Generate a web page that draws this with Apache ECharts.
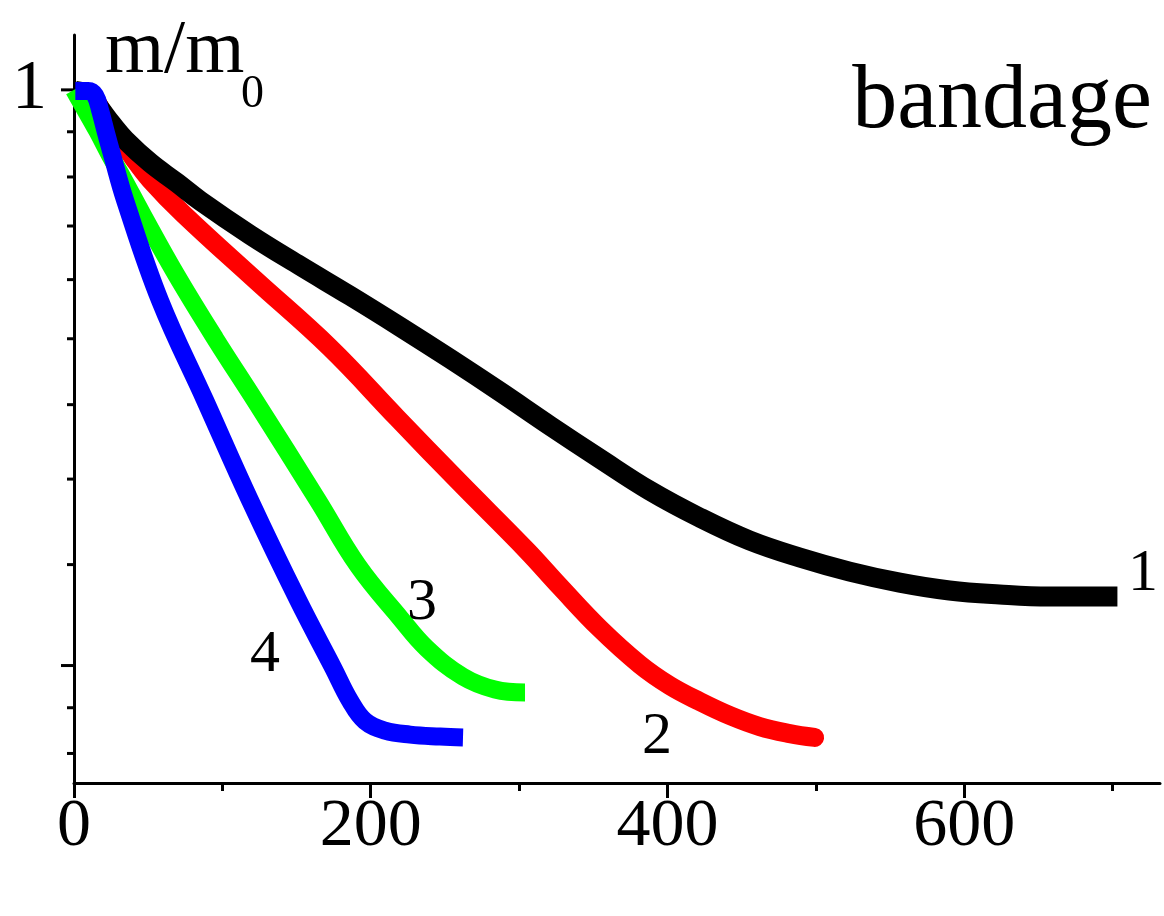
<!DOCTYPE html>
<html>
<head>
<meta charset="utf-8">
<script src="https://cdn.jsdelivr.net/npm/echarts@6/dist/echarts.min.js"></script>
<style>
  html, body { margin: 0; padding: 0; background: #fff; }
  #chart { width: 1164px; height: 916px; }
</style>
</head>
<body>
<div id="chart"></div>
<script>
// time vs relative mass m/m0
var curve1 = [[0.9, 0.998], [11, 0.9896], [17.7, 0.9676], [25.9, 0.941], [34.5, 0.9169], [51.4, 0.881],
  [69.4, 0.851], [85.1, 0.8247], [118.7, 0.7775], [152.4, 0.7367], [186.1, 0.6993], [219.7, 0.6627],
  [253.4, 0.6269], [287.1, 0.592], [320.8, 0.558], [354.4, 0.527], [388.1, 0.4985], [421.8, 0.4757],
  [455.4, 0.4571], [489.1, 0.4438], [522.8, 0.4331], [556.5, 0.4249], [590.1, 0.4191], [623.8, 0.4162],
  [657.5, 0.4147], [703.3, 0.4147]];
var curve2 = [[6, 0.99], [14.3, 0.9811], [21.1, 0.9542], [27.8, 0.9297], [39.9, 0.8887], [51.4, 0.8553],
  [73.6, 0.8063], [122.1, 0.719], [172.6, 0.6389], [217.7, 0.5658], [260.1, 0.5054], [305.3, 0.4492],
  [327.5, 0.422], [354.4, 0.3923], [381.4, 0.3685], [401.6, 0.3553], [421.8, 0.3456], [442, 0.3373],
  [462.2, 0.3309], [482.4, 0.3269], [499.2, 0.3247]];
var curve3 = [[0, 1.0], [4.2, 0.981], [15.7, 0.931], [24.4, 0.892], [33.9, 0.854], [46, 0.806],
  [68.9, 0.7253], [95.2, 0.6491], [122.1, 0.5828], [164.5, 0.4899], [191.4, 0.4376], [219.7, 0.3998],
  [237.9, 0.3789], [262.1, 0.3609], [283.7, 0.3529], [304, 0.3511]];
var curve4 = [[0.9, 0.998], [9.6, 0.998], [14.3, 0.990], [17.7, 0.964], [21.8, 0.926], [25.8, 0.892],
  [34.5, 0.825], [58.1, 0.693], [88.4, 0.583], [118.7, 0.490], [151.1, 0.412], [174.6, 0.3666],
  [186.1, 0.346], [196.2, 0.334], [209.6, 0.3286], [226.5, 0.3263], [246.7, 0.3252], [262.2, 0.3247]];

var xMajorTicks = [0, 200, 400, 600];
var xMinorTicks = [100, 300, 500, 700];
// ln-scale axis: majors at e^0 and e^-1, minors linear in between
var yMajorTicks = [1, 0.3679];
var yMinorTicks = [0.9298, 0.8596, 0.7894, 0.7192, 0.6490, 0.5788, 0.5086, 0.4384, 0.3419, 0.3158];
var yLabels = [[1, '1']];

var chart = echarts.init(document.getElementById('chart'));
var serif = '"Liberation Serif", "DejaVu Serif", serif';

var tickData = yMajorTicks.map(function (v) { return [0, v, 13]; })
  .concat(yMinorTicks.map(function (v) { return [0, v, 7]; }));

function lineSeries(data, color, width, cap) {
  return {
    type: 'line',
    data: data,
    xAxisIndex: 0,
    showSymbol: false,
    symbol: 'none',
    smooth: 0.4,
    clip: false,
    lineStyle: { color: color, width: width, cap: cap, join: 'round' },
    silent: true,
    animation: false
  };
}

chart.setOption({
  animation: false,
  grid: { left: 74, right: 4, top: 35, bottom: 133, containLabel: false },
  xAxis: [{
    type: 'value',
    min: 0,
    max: 732,
    axisLine: { show: true, onZero: false, lineStyle: { color: '#000', width: 3 } },
    axisTick: { show: true, length: 15, customValues: xMajorTicks, lineStyle: { color: '#000', width: 3 } },
    axisLabel: { customValues: xMajorTicks, color: '#000', fontFamily: serif, fontSize: 68, margin: 10 },
    splitLine: { show: false }
  }, {
    type: 'value',
    position: 'bottom',
    min: 0,
    max: 732,
    axisLine: { show: false },
    axisTick: { show: true, length: 8, customValues: xMinorTicks, lineStyle: { color: '#000', width: 3 } },
    axisLabel: { show: false },
    splitLine: { show: false }
  }],
  yAxis: {
    type: 'log',
    logBase: Math.E,
    min: 0.3,
    max: 1.1,
    axisLine: { show: true, lineStyle: { color: '#000', width: 3 } },
    axisTick: { show: false },
    axisLabel: { show: false },
    splitLine: { show: false },
    minorTick: { show: false }
  },
  series: [
    lineSeries(curve2, '#ff0000', 19, 'round'),
    lineSeries(curve1, '#000000', 20, 'butt'),
    lineSeries(curve3, '#00ff00', 18, 'butt'),
    lineSeries(curve4, '#0000ff', 18, 'butt'),
    {
      type: 'custom',
      data: tickData,
      clip: false,
      silent: true,
      renderItem: function (params, api) {
        var p = api.coord([0, api.value(1)]);
        var len = api.value(2);
        return {
          type: 'line',
          shape: { x1: p[0] - len, y1: p[1], x2: p[0], y2: p[1] },
          style: { stroke: '#000', lineWidth: 3 }
        };
      }
    },
    {
      type: 'custom',
      data: yLabels.map(function (d) { return [0, d[0], d[1]]; }),
      clip: false,
      silent: true,
      renderItem: function (params, api) {
        var p = api.coord([0, api.value(1)]);
        return {
          type: 'text',
          x: p[0] - 27,
          y: p[1],
          style: { text: yLabels[params.dataIndex][1], font: '70px ' + serif, fill: '#000', align: 'right', verticalAlign: 'middle' }
        };
      }
    }
  ],
  graphic: [
    { type: 'text', left: 105, top: 14, style: { text: 'm/m', font: '76px ' + serif, fill: '#000' } },
    { type: 'text', left: 241, top: 72, style: { text: '0', font: '46px ' + serif, fill: '#000' } },
    { type: 'text', right: 12, top: 58, style: { text: 'bandage', font: '90px ' + serif, fill: '#000' } },
    { type: 'text', left: 1128, top: 544, style: { text: '1', font: '60px ' + serif, fill: '#000' } },
    { type: 'text', left: 642, top: 707, style: { text: '2', font: '60px ' + serif, fill: '#000' } },
    { type: 'text', left: 407, top: 573, style: { text: '3', font: '60px ' + serif, fill: '#000' } },
    { type: 'text', left: 250, top: 625, style: { text: '4', font: '60px ' + serif, fill: '#000' } }
  ]
});
</script>
</body>
</html>
